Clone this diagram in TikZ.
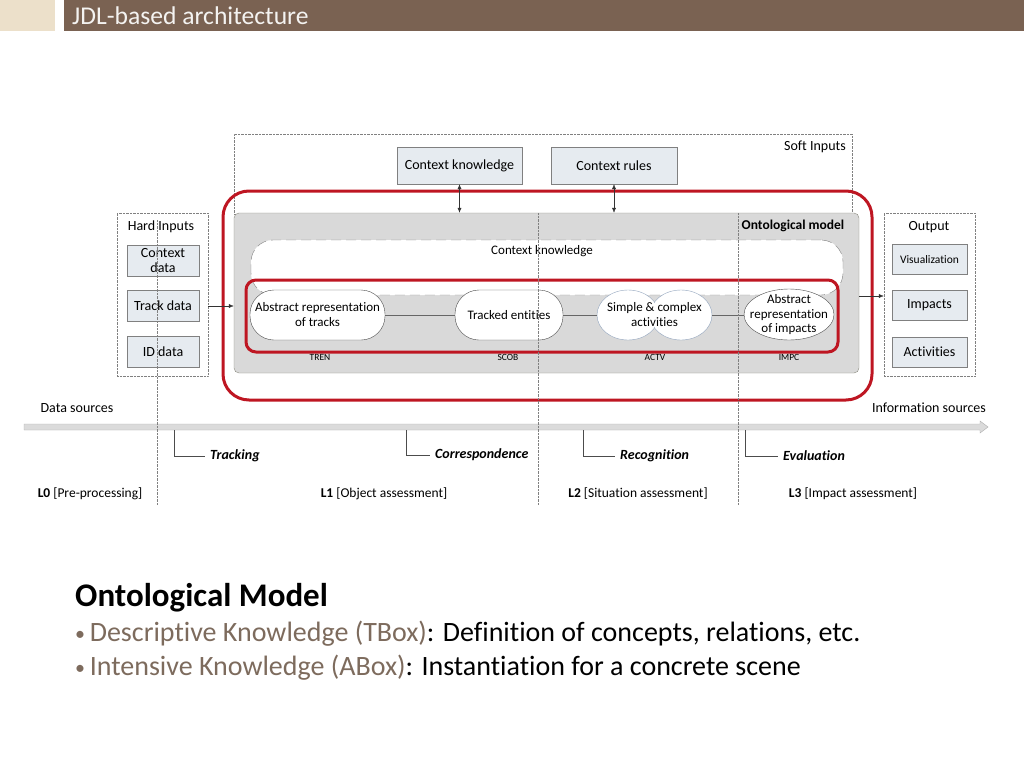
\documentclass[tikz,border=0pt]{standalone}
\usepackage{fontspec}
\setmainfont{Carlito}[Ligatures=NoCommon]
\usetikzlibrary{positioning,arrows.meta,shapes.geometric}
\definecolor{titlebrown}{HTML}{7A6252}
\definecolor{titlebeige}{HTML}{ECE0CA}
\definecolor{boxfill}{HTML}{E6EBF0}
\definecolor{boxline}{HTML}{808080}
\definecolor{ontofill}{HTML}{D9D9D9}
\definecolor{ontoline}{HTML}{8A8A80}
\definecolor{fusered}{HTML}{BE1622}
\definecolor{cloudline}{HTML}{8FA2BC}
\definecolor{bulletbrown}{HTML}{7D6B5D}
\newcommand\fsbox{\fontsize{14}{14.5}\selectfont}
\newcommand\fsnode{\fontsize{13}{15}\selectfont}
\newcommand\fssmall{\fontsize{11.5}{13}\selectfont}
\newcommand\fstiny{\fontsize{9.5}{10}\selectfont}
\newcommand\slidebullet{{\fontsize{20}{20}\selectfont\raisebox{1.5pt}{\textbullet}}\,}

\begin{document}
\begin{tikzpicture}[x=1pt,y=-1pt,
  inbox/.style={
    draw=boxline,
    fill=boxfill,
    inner sep=0pt,
    align=center,
    font=\fsbox
  },
  group/.style={
    draw=gray,
    densely dotted,
    inner sep=0pt
  },
  concept/.style={
    draw=gray!60!black,
    fill=white,
    inner sep=0pt,
    align=center,
    font=\fsnode,
    minimum height=50pt
  },
  flow/.style={-{Latex[length=5pt,width=4pt]}, draw=gray!40!black},
  bracket/.style={draw=gray!60!black},
  phase/.style={font=\fontsize{14}{15}\selectfont\bfseries\itshape, anchor=west, inner sep=5pt},
  level/.style={font=\fontsize{13.5}{14}\selectfont},
  fusion/.style={draw=fusered, line width=3pt}
]
\useasboundingbox (0,0) rectangle (1024,768);
% Title bar of the slide.
\fill[titlebeige] (0,0) rectangle (55,31);
\fill[titlebrown] (64,0) rectangle (1024,31);
\node[anchor=west, text=white!92!titlebrown, font=\fontsize{25.6}{27}\selectfont, inner sep=0pt] (title) at (72,16) {JDL-based architecture};
% Soft inputs.
\node[group, minimum width=618pt, minimum height=80pt] (soft) at (543,174) {};
\node[font=\fsbox] (softlabel) at (815,147) {Soft Inputs};
\node[inbox, minimum width=125pt, minimum height=37pt] (ctxk) at (459.5,165.5) {Context knowledge};
\node[inbox, minimum width=126pt, minimum height=37pt] (ctxr) at (614,165.5) {Context rules};
% Fusion core.
\draw[fusion, rounded corners=26pt] (223,191) rectangle (872,400);
\node[draw=ontoline, fill=ontofill, rounded corners=5pt, minimum width=625pt, minimum height=160pt] (onto) at (546.5,293) {};
\node[font=\fontsize{13.5}{14}\selectfont\bfseries] (ontolabel) at (793,226) {Ontological model};
\draw[flow, {Latex[length=5pt,width=4pt]}-{Latex[length=5pt,width=4pt]}] (ctxk.south) -- (ctxk.south |- onto.north);
\draw[flow, {Latex[length=5pt,width=4pt]}-{Latex[length=5pt,width=4pt]}] (ctxr.south) -- (ctxr.south |- onto.north);
\node[draw=gray, fill=white, dashed, dash pattern=on 10pt off 5pt, rounded corners=22pt, minimum width=592pt, minimum height=55pt] (ctxmem) at (547,267.5) {};
\node[font=\fsnode] (ctxmemlabel) at (542,251) {Context knowledge};
\draw[fusion, rounded corners=10pt] (246,280) rectangle (838,352);
% Concepts of the ontology.
\node[concept, rounded corners=24pt, minimum width=135pt] (tren) at (317.5,315) {Abstract representation\\of tracks};
\node[concept, rounded corners=24pt, minimum width=108pt] (scob) at (509,315) {Tracked entities};
\filldraw[draw=cloudline, fill=white] (628,315) ellipse [x radius=31, y radius=25];
\filldraw[draw=cloudline, fill=white] (681,315) ellipse [x radius=31, y radius=25];
\fill[white] (628,315) ellipse [x radius=30, y radius=24];
\node[concept, draw=none, fill=none, minimum width=115pt] (actv) at (654.5,315) {Simple \& complex\\activities};
\filldraw[draw=gray!60!black, fill=white] (789,314.5) ellipse [x radius=45, y radius=25.5];
\node[concept, draw=none, fill=none, minimum width=90pt, font=\fontsize{13}{14.5}\selectfont] (impc) at (789,315) {Abstract\\representation\\of impacts};
\draw[gray!80!black] (tren.east) -- (scob.west);
\draw[gray!80!black] (scob.east) -- (actv.west);
\draw[gray!80!black] (actv.east) -- (impc.west);
\node[font=\fstiny] (trenlabel) at (320,357) {TREN};
\node[font=\fstiny] (scoblabel) at (508,357) {SCOB};
\node[font=\fstiny] (actvlabel) at (655,357) {ACTV};
\node[font=\fstiny] (impclabel) at (789,357) {IMPC};
% Hard inputs and output.
\node[group, minimum width=91pt, minimum height=163pt] (hard) at (162.5,294.5) {};
\node[font=\fsbox] (hardlabel) at (161,227) {Hard Inputs};
\node[inbox, minimum width=72pt, minimum height=31pt] (ctxdata) at (163,260.5) {Context\\data};
\node[inbox, minimum width=72pt, minimum height=31pt] (trackdata) at (163,306) {Track data};
\node[inbox, minimum width=72pt, minimum height=31pt] (iddata) at (163,352) {ID data};
\node[group, minimum width=91pt, minimum height=163pt] (out) at (929.5,294.5) {};
\node[font=\fsbox] (outlabel) at (929,227) {Output};
\node[inbox, font=\fssmall, minimum width=75pt, minimum height=30pt] (visual) at (929.5,259.5) {Visualization};
\node[inbox, minimum width=75pt, minimum height=30pt] (impacts) at (929.5,305.5) {Impacts};
\node[inbox, minimum width=75pt, minimum height=30pt] (activities) at (929.5,352) {Activities};
\draw[flow] (hard.east |- trackdata.east) -- (onto.west |- trackdata.east);
\coordinate (ontoout) at (859,296);
\draw[flow] (ontoout) -- (ontoout -| out.west);
% Time line of the fusion levels.
\node[font=\fsbox] (datasrc) at (77,408) {Data sources};
\node[font=\fsbox] (infosrc) at (929,408) {Information sources};
\filldraw[draw=gray!65, fill=gray!28] (24,424) -- (980,424) -- (980,421) -- (988,427)
  -- (980,433) -- (980,430) -- (24,430) -- cycle;
\node[phase] (tracking) at (205,456) {Tracking};
\node[phase] (corresp) at (430,455) {Correspondence};
\node[phase] (recog) at (615,456) {Recognition};
\node[phase] (eval) at (778,456) {Evaluation};
\draw[bracket] (174,430) |- (tracking.west);
\draw[bracket] (406,430) |- (corresp.west);
\draw[bracket] (583,430) |- (recog.west);
\draw[bracket] (745,430) |- (eval.west);
\node[level] (lzero) at (90,494) {\textbf{L0} [Pre-processing]};
\node[level] (lone) at (384,494) {\textbf{L1} [Object assessment]};
\node[level] (ltwo) at (638,494) {\textbf{L2} [Situation assessment]};
\node[level] (lthree) at (853,494) {\textbf{L3} [Impact assessment]};
% Level borders, drawn over everything.
\draw[gray, densely dotted] (157,220) -- (157,505);
\draw[gray, densely dotted] (538,213) -- (538,505);
\draw[gray, densely dotted] (738,213) -- (738,505);
% Slide text.
\node[anchor=west, inner sep=0pt, font=\fontsize{33}{35}\selectfont\bfseries] (heading) at (75,598) {Ontological Model};
\node[anchor=west, inner sep=0pt, font=\fontsize{28}{30}\selectfont] (tbox) at (75,634)
  {{\color{bulletbrown}\slidebullet Descriptive Knowledge (TBox)}: Definition of concepts, relations, etc.};
\node[anchor=west, inner sep=0pt, font=\fontsize{28}{30}\selectfont] (abox) at (75,668)
  {{\color{bulletbrown}\slidebullet Intensive Knowledge (ABox)}: Instantiation for a concrete scene};
\end{tikzpicture}
\end{document}
